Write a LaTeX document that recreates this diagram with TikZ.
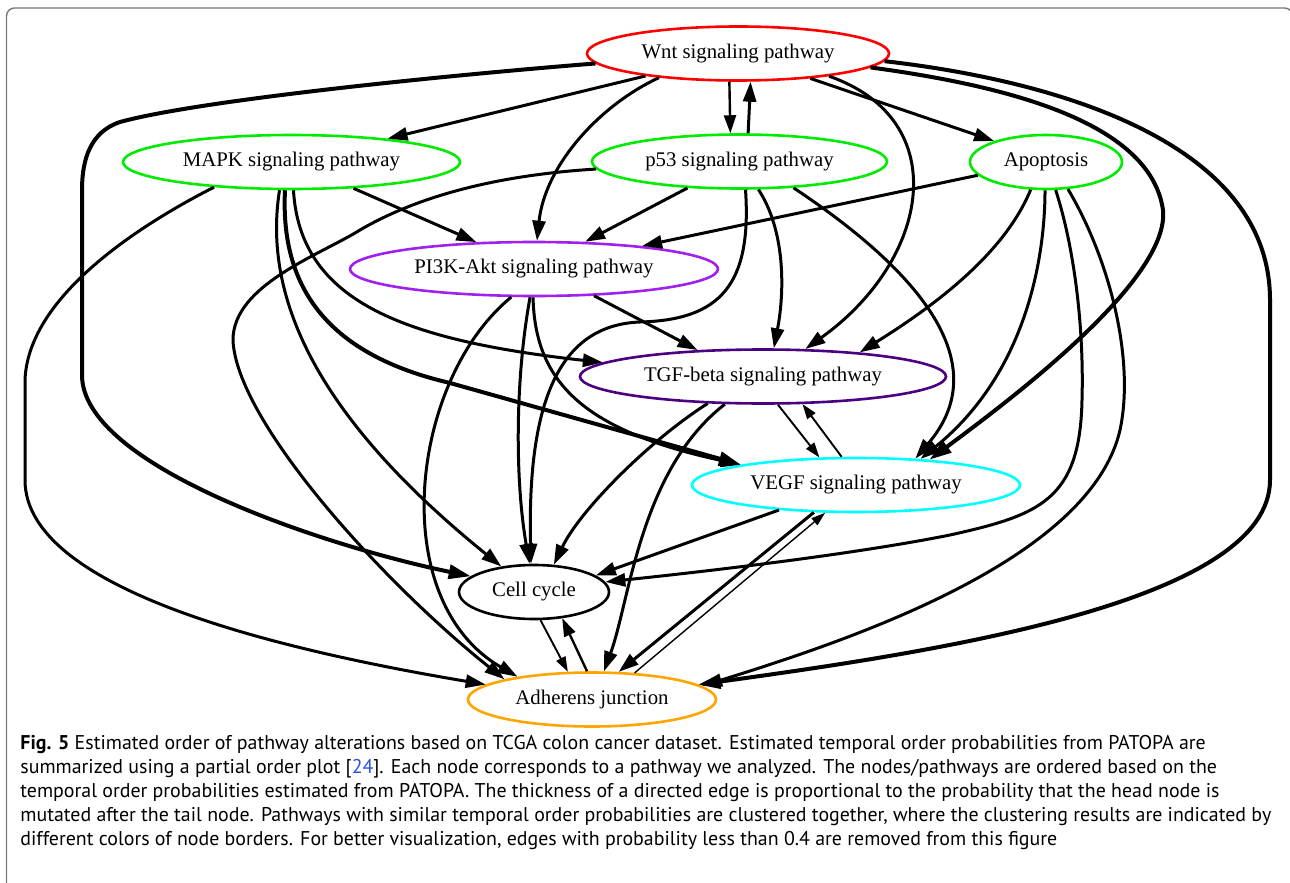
\documentclass[tikz,border=0pt]{standalone}
\usepackage{fontspec}
\setmainfont{Liberation Serif}
\newfontfamily\capfont{PT Sans}
\usetikzlibrary{arrows.meta,shapes.geometric}
\definecolor{ngreen}{RGB}{0,235,0}
\definecolor{npurple}{RGB}{160,32,240}
\definecolor{nindigo}{RGB}{75,0,130}
\definecolor{ncyan}{RGB}{0,255,255}
\definecolor{norange}{RGB}{255,165,0}
\definecolor{nred}{RGB}{255,0,0}
\definecolor{framegray}{RGB}{120,120,120}
\definecolor{linkblue}{RGB}{40,80,220}
\tikzset{
  nd/.style={ellipse, draw, line width=1.3pt, minimum height=27pt, inner sep=0pt},
  lab/.style={inner sep=0pt, font=\fontsize{10.4}{12}\selectfont},
  e/.style={line width=1.5pt, -{Triangle[length=10pt,width=6.5pt]}},
  emid/.style={line width=1.2pt, -{Triangle[length=9pt,width=6pt]}},
  ethick/.style={line width=2pt, -{Triangle[length=11pt,width=7pt]}},
  ethin/.style={line width=0.95pt, -{Triangle[length=7.5pt,width=5pt]}},
  evthin/.style={line width=0.7pt, -{Triangle[length=7pt,width=4.5pt]}},
  captext/.style={anchor=base west, inner sep=0pt, font=\capfont\fontsize{9.95}{12}\selectfont},
}
\begin{document}
\begin{tikzpicture}[x=0.5pt,y=-0.5pt]
\useasboundingbox (0,0) rectangle (1290,883);
\clip (0,0) rectangle (1290,883);
% frame
\draw[framegray, line width=0.7pt, rounded corners=4pt] (6.5,900) -- (6.5,8) -- (1292.5,8) -- (1292.5,900);

% nodes
\node[nd, draw=nred, minimum width=151pt, label={[lab]center:Wnt signaling pathway}] (W) at (738,53.5) {};
\node[nd, draw=ngreen, minimum width=168.5pt, label={[lab]center:MAPK signaling pathway}] (M) at (291.5,162) {};
\node[nd, draw=ngreen, minimum width=147.5pt, label={[lab]center:p53 signaling pathway}] (P) at (739.5,161.5) {};
\node[nd, draw=ngreen, minimum width=76pt, label={[lab]center:Apoptosis}] (A) at (1046,162) {};
\node[nd, draw=npurple, minimum width=184pt, label={[lab]center:PI3K-Akt signaling pathway}] (PI) at (534,269) {};
\node[nd, draw=nindigo, minimum width=183pt, label={[lab]center:TGF-beta signaling pathway}] (T) at (763,376.5) {};
\node[nd, draw=ncyan, minimum width=164pt, label={[lab]center:VEGF signaling pathway}] (V) at (856,485) {};
\node[nd, draw=black, minimum width=75pt, label={[lab]center:Cell cycle}] (C) at (534,592) {};
\node[nd, draw=norange, minimum width=124pt, label={[lab]center:Adherens junction}] (AJ) at (592,699.5) {};

% edges from Wnt
\draw[e] (W) -- (M);
\draw[emid] (W.253) -- (P.108);
\draw[e] (P.73) -- (W.-66);
\draw[e] (W.-19) -- (A.158.6);
\draw[e] (W.197) .. controls (600,105) and (545,165) .. (PI.84);
\draw[ethick] (W.184) .. controls (450,75) and (200,100) .. (120,122) .. controls (90,132) and (82,160) .. (82,190) -- (82,375) .. controls (82,465) and (320,545) .. (C.166);
\draw[e] (W.-14) .. controls (955,120) and (930,260) .. (T.33.5);
\draw[ethick] (W.-6) .. controls (1000,85) and (1150,120) .. (1163,210) .. controls (1170,280) and (1010,400) .. (V.19.6);
\draw[ethick] (W.-3.7) .. controls (1050,80) and (1270,140) .. (1270,300) -- (1270,480) .. controls (1270,600) and (950,650) .. (AJ.8.6);

% edges from MAPK
\draw[e] (M.-23.4) -- (PI.155.4);
\draw[e] (M.-86.8) .. controls (300,300) and (400,340) .. (T.175.2);
\draw[ethick] (M.-103) .. controls (280,290) and (330,355) .. (450,383) -- (V.170.2);
\draw[e] (M.-113.9) .. controls (262,300) and (320,420) .. (C.142.7);
\draw[e] (M.198) .. controls (130,230) and (28,300) .. (25,380) -- (25,480) .. controls (25,590) and (280,650) .. (AJ.172);

% edges from p53
\draw[e] (P.207.6) -- (PI.28.4);
\draw[e] (P.-56.9) .. controls (785,230) and (785,290) .. (T.69.7);
\draw[e] (P.-26.8) .. controls (910,265) and (1000,360) .. (V.24.8);
\draw[e] (P.-78.5) .. controls (752,285) and (720,320) .. (640,322) .. controls (560,325) and (527,400) .. (C.96);
\draw[e] (P.183.8) .. controls (500,175) and (420,195) .. (360,230) .. controls (320,255) and (233,285) .. (233,340) .. controls (236,420) and (380,580) .. (AJ.167.3);

% edges from Apoptosis
\draw[e] (A.191.5) -- (PI.12.1);
\draw[e] (A.241.7) .. controls (1010,240) and (960,290) .. (T.14.9);
\draw[e] (A.-92) .. controls (1045,250) and (1030,370) .. (V.22);
\draw[e] (A.-71.3) .. controls (1075,250) and (1084,330) .. (1082,400) .. controls (1080,500) and (1040,515) .. (950,535) .. controls (850,555) and (700,572) .. (C.8.1);
\draw[e] (A.-51) .. controls (1110,260) and (1135,360) .. (1120,430) .. controls (1090,560) and (850,640) .. (AJ.7);

% edges from PI3K-Akt
\draw[e] (PI.-24.6) -- (T.158.7);
\draw[e] (PI.-98.4) .. controls (515,380) and (515,480) .. (C.99);
\draw[e] (PI.-92) .. controls (535,380) and (580,430) .. (V.170);
\draw[e] (PI.231.3) .. controls (410,380) and (385,600) .. (AJ.163.4);

% edges from TGF-beta
\draw[e] (T.206) .. controls (650,440) and (580,510) .. (C.54);
\draw[e] (T.216.4) .. controls (640,470) and (630,600) .. (AJ.67.5);
\draw[ethin] (T.-62.2) -- (V.143.8);
\draw[ethin] (V.117.4) -- (T.-35.5);

% edges from VEGF
\draw[e] (V.198.3) -- (C.15.8);
\draw[e] (V.213.7) -- (AJ.46);
\draw[evthin] (AJ.32) -- (V.222.5);

% Cell cycle / Adherens
\draw[ethin] (C.-77.1) -- (AJ.131.1);
\draw[emid] (AJ.100.7) -- (C.-43.9);

% caption
\node[captext] (c1) at (20,749) {\textbf{Fig. 5} Estimated order of pathway alterations based on TCGA colon cancer dataset. Estimated temporal order probabilities from PATOPA are};
\node[captext] (c2) at (20,773) {summarized using a partial order plot [\textcolor{linkblue}{24}]. Each node corresponds to a pathway we analyzed. The nodes/pathways are ordered based on the};
\node[captext] (c3) at (20,797) {temporal order probabilities estimated from PATOPA. The thickness of a directed edge is proportional to the probability that the head node is};
\node[captext] (c4) at (20,821) {mutated after the tail node. Pathways with similar temporal order probabilities are clustered together, where the clustering results are indicated by};
\node[captext] (c5) at (20,845) {different colors of node borders. For better visualization, edges with probability less than 0.4 are removed from this figure};
\end{tikzpicture}
\end{document}
